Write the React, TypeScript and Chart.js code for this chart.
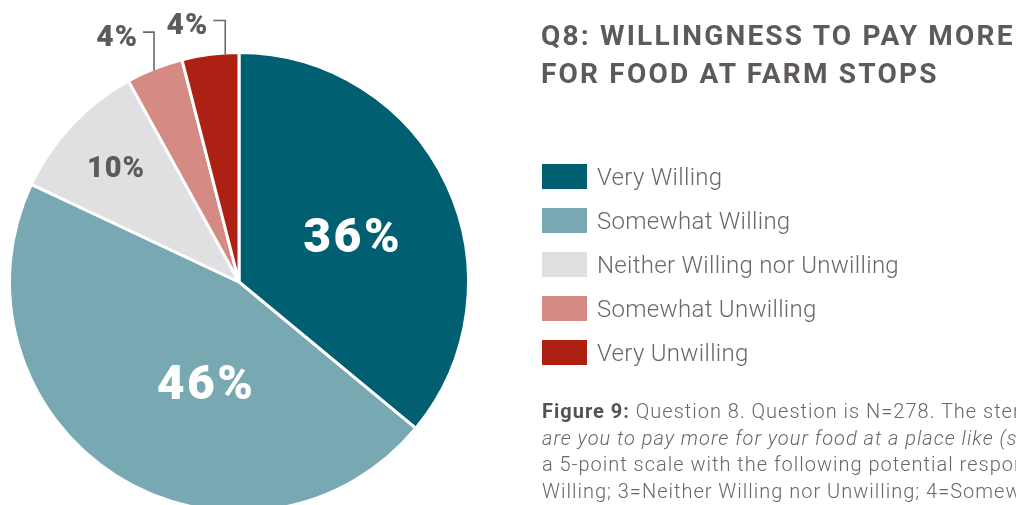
import React, { useEffect, useRef } from "react";
import { Chart, registerables } from "chart.js";

Chart.register(...registerables);

const categories = [
  "Very Willing",
  "Somewhat Willing",
  "Neither Willing nor Unwilling",
  "Somewhat Unwilling",
  "Very Unwilling",
];
const values = [36, 46, 10, 4, 4];
const valueLabels = ["36%", "46%", "10%", "4%", "4%"];
const colors = ["#005f71", "#78a8b2", "#e0e0e2", "#d58b84", "#ad2115"];

const titleLines = ["Q8: WILLINGNESS TO PAY MORE", "FOR FOOD AT FARM STOPS"];

// label placement styles (not data)
const labelStyles = [
  { kind: "in", frac: 0.52, r: 0.54, size: 48, color: "#ffffff" },
  { kind: "in", frac: 0.415, r: 0.46, size: 48, color: "#ffffff" },
  { kind: "in", frac: 0.5, r: 0.74, size: 29, color: "#5e5a5b" },
  { kind: "out", frac: 0.48, elbow: 1.096, arm: 11, size: 30, color: "#5e5a5b" },
  { kind: "out", frac: 0.76, elbow: 1.147, arm: 12, size: 30, color: "#5e5a5b" },
];

const FONT = "Roboto, 'Noto Sans', sans-serif";

const labelPlugin = {
  id: "sliceLabels",
  afterDatasetsDraw(chart: any) {
    const ctx = chart.ctx as CanvasRenderingContext2D;
    const meta = chart.getDatasetMeta(0);
    meta.data.forEach((arc: any, i: number) => {
      const st = labelStyles[i] as any;
      const p = arc.getProps(["x", "y", "startAngle", "endAngle", "outerRadius"], true);
      const R = p.outerRadius - 1.5;
      const a = p.startAngle + (p.endAngle - p.startAngle) * st.frac;
      ctx.save();
      ctx.font = `900 ${st.size}px ${FONT}`;
      (ctx as any).letterSpacing = st.size > 40 ? "2.5px" : "1px";
      ctx.fillStyle = st.color;
      if (st.kind === "in") {
        const x = p.x + Math.cos(a) * R * st.r;
        const y = p.y + Math.sin(a) * R * st.r;
        ctx.textAlign = "center";
        ctx.textBaseline = "alphabetic";
        ctx.fillText(valueLabels[i], x, y + st.size * 0.711 / 2);
      } else {
        const x0 = p.x + Math.cos(a) * R;
        const y0 = p.y + Math.sin(a) * R;
        const ye = p.y - R * st.elbow;
        const xe = x0 - st.arm;
        ctx.strokeStyle = "#6d6869";
        ctx.lineWidth = 1.6;
        ctx.beginPath();
        ctx.moveTo(x0, y0);
        ctx.lineTo(x0, ye);
        ctx.lineTo(xe, ye);
        ctx.stroke();
        ctx.textAlign = "right";
        ctx.textBaseline = "alphabetic";
        ctx.fillText(valueLabels[i], xe - 5, ye + 14);
      }
      ctx.restore();
    });
  },
};

function Text({ left, baseline, size, weight, color, italic, children, spacing }: any) {
  return (
    <div
      style={{
        position: "absolute",
        left,
        top: baseline - 0.928 * size,
        fontFamily: FONT,
        fontSize: size,
        fontWeight: weight,
        fontStyle: italic ? "italic" : "normal",
        color,
        lineHeight: "normal",
        whiteSpace: "nowrap",
        letterSpacing: spacing || 0,
      }}
    >
      {children}
    </div>
  );
}

export default function App() {
  const ref = useRef<HTMLCanvasElement>(null);
  useEffect(() => {
    const chart = new Chart(ref.current!, {
      type: "pie",
      data: {
        labels: categories,
        datasets: [
          {
            data: values,
            backgroundColor: colors,
            borderColor: "#ffffff",
            borderWidth: 3,
          },
        ],
      },
      options: {
        responsive: false,
        animation: false,
        layout: { padding: { left: 8, top: 51, right: 546, bottom: 7 } },
        plugins: { legend: { display: false }, tooltip: { enabled: false } },
      },
      plugins: [labelPlugin],
    });
    return () => chart.destroy();
  }, []);

  const legendBase = [185, 229, 273, 317, 361];
  const captionBase = [418, 444.5, 471, 497.5];
  const txt = "#6b6767";
  const capSp = "1px";
  const capSize = 20;

  return (
    <div
      style={{
        position: "fixed",
        left: 0,
        top: 0,
        width: 1016,
        height: 505,
        overflow: "hidden",
        background: "#ffffff",
      }}
    >
      <canvas ref={ref} width={1016} height={520} style={{ position: "absolute", left: 0, top: 0 }} />
      {titleLines.map((t, i) => (
        <Text key={t} left={541} baseline={45 + i * 38} size={28} weight={700} color="#5e5a5b" spacing="2.2px">
          {t}
        </Text>
      ))}
      {categories.map((c, i) => (
        <React.Fragment key={c}>
          <div
            style={{
              position: "absolute",
              left: 542,
              top: legendBase[i] - 21,
              width: 45,
              height: 25,
              background: colors[i],
            }}
          />
          <Text left={597} baseline={legendBase[i]} size={24} weight={300} color={txt} spacing="0.3px">
            {c}
          </Text>
        </React.Fragment>
      ))}
      <Text left={542} baseline={captionBase[0]} size={capSize} weight={300} color={txt} spacing={capSp}>
        <span style={{ fontWeight: 700, color: "#555152" }}>Figure 9:</span> Question 8. Question is N=278. The stem question: How willing
      </Text>
      <Text left={542} baseline={captionBase[1]} size={capSize} weight={300} color={txt} italic spacing={capSp}>
        are you to pay more for your food at a place like (stop name)? Responses used
      </Text>
      <Text left={542} baseline={captionBase[2]} size={capSize} weight={300} color={txt} spacing={capSp}>
        a 5-point scale with the following potential responses: 1=Very Willing; 2=Somewhat
      </Text>
      <Text left={542} baseline={captionBase[3]} size={capSize} weight={300} color={txt} spacing={capSp}>
        Willing; 3=Neither Willing nor Unwilling; 4=Somewhat Unwilling; 5=Very Unwilling.
      </Text>
    </div>
  );
}
